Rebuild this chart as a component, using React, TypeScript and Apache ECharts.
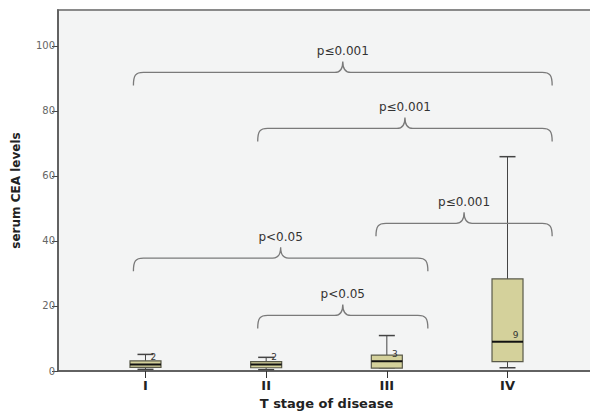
import React, { useEffect, useRef } from "react";
import * as echarts from "echarts";

const categories = ["I", "II", "III", "IV"];
// [x position, low whisker, Q1, median, Q3, high whisker]
const boxLow = [0.5, 0.4, 1.0, 1.0];
const boxQ1 = [1.1, 1.0, 0.9, 2.9];
const boxMedian = [2, 2, 3, 9];
const boxQ3 = [3.1, 2.9, 4.9, 28.3];
const boxHigh = [5.1, 4.2, 10.9, 65.9];
const medianLabels = ["2", "2", "3", "9"];

const bracketStart = [0.9, 1.93, 0.9, 1.93, 2.91];
const bracketEnd = [4.37, 4.37, 3.34, 3.34, 4.37];
const bracketLevel = [91.8, 74.6, 34.7, 17.1, 45.4];
const bracketLabels = ["p≤0.001", "p≤0.001", "p<0.05", "p<0.05", "p≤0.001"];

const yTicks = [0, 20, 40, 60, 80, 100];
const FONT = "DejaVu Sans";

export default function App() {
  const ref = useRef<HTMLDivElement>(null);
  useEffect(() => {
    if (!ref.current) return;
    const chart = echarts.init(ref.current, null, { renderer: "svg" });
    const boxData = categories.map((_, i) => [
      i + 1,
      boxLow[i],
      boxQ1[i],
      boxMedian[i],
      boxQ3[i],
      boxHigh[i],
    ]);
    const bracketData = bracketStart.map((s, i) => [s, bracketEnd[i], bracketLevel[i]]);
    const xTickValues = categories.map((_, i) => i + 1);

    chart.setOption({
      animation: false,
      grid: {
        left: 58,
        right: -5,
        top: 10,
        bottom: 44,
        outerBoundsMode: "none",
        containLabel: false,
        show: true,
        backgroundColor: "#f3f4f4",
        borderColor: "#8a8a8a",
        borderWidth: 2,
      },
      xAxis: {
        type: "value",
        min: 0.275,
        max: 4.725,
        splitLine: { show: false },
        axisLine: { show: true, onZero: false, lineStyle: { color: "#555", width: 1.5 } },
        axisTick: {
          show: true,
          customValues: xTickValues,
          length: 7,
          lineStyle: { color: "#333" },
        },
        axisLabel: {
          customValues: xTickValues,
          formatter: (v: number) => categories[Math.round(v) - 1] ?? "",
          fontFamily: FONT,
          fontWeight: "bold",
          fontSize: 13,
          color: "#222",
          margin: 8,
        },
        name: "T stage of disease",
        nameLocation: "middle",
        nameGap: 26,
        nameTextStyle: { fontFamily: FONT, fontWeight: "bold", fontSize: 13, color: "#222" },
      },
      yAxis: {
        type: "value",
        min: 0,
        max: 111,
        splitLine: { show: false },
        axisLine: { show: true, lineStyle: { color: "#555", width: 1.5 } },
        axisTick: { show: true, customValues: yTicks, length: 6, lineStyle: { color: "#444" } },
        axisLabel: {
          customValues: yTicks,
          fontFamily: FONT,
          fontSize: 10,
          color: "#666",
          margin: 3,
        },
        name: "serum CEA levels",
        nameLocation: "middle",
        nameRotate: 90,
        nameGap: 36,
        nameTextStyle: { fontFamily: FONT, fontWeight: "bold", fontSize: 12, color: "#222" },
      },
      series: [
        {
          type: "custom",
          data: boxData,
          renderItem: (params: any, api: any) => {
            const x = api.value(0);
            const pLow = api.coord([x, api.value(1)]);
            const pQ1 = api.coord([x, api.value(2)]);
            const pMed = api.coord([x, api.value(3)]);
            const pQ3 = api.coord([x, api.value(4)]);
            const pHigh = api.coord([x, api.value(5)]);
            const cx = pLow[0];
            const hw = 15.5;
            const cap = 8;
            const stroke = "#444";
            return {
              type: "group",
              children: [
                { type: "line", shape: { x1: cx, y1: pLow[1], x2: cx, y2: pQ1[1] }, style: { stroke, lineWidth: 1 } },
                { type: "line", shape: { x1: cx, y1: pQ3[1], x2: cx, y2: pHigh[1] }, style: { stroke, lineWidth: 1 } },
                { type: "line", shape: { x1: cx - cap, y1: pLow[1], x2: cx + cap, y2: pLow[1] }, style: { stroke, lineWidth: 1.5 } },
                { type: "line", shape: { x1: cx - cap, y1: pHigh[1], x2: cx + cap, y2: pHigh[1] }, style: { stroke, lineWidth: 1.5 } },
                {
                  type: "rect",
                  shape: { x: cx - hw, y: pQ3[1], width: hw * 2, height: pQ1[1] - pQ3[1] },
                  style: { fill: "#d4d19b", stroke: "#5a5a4a", lineWidth: 1.2 },
                },
                { type: "line", shape: { x1: cx - hw, y1: pMed[1], x2: cx + hw, y2: pMed[1] }, style: { stroke: "#111", lineWidth: 2 } },
                {
                  type: "text",
                  style: {
                    text: medianLabels[params.dataIndex],
                    x: cx + 8,
                    y: pMed[1] - 7,
                    align: "center",
                    verticalAlign: "middle",
                    fontFamily: FONT,
                    fontSize: 9,
                    fill: "#333",
                  },
                },
              ],
            };
          },
          z: 3,
        },
        {
          type: "custom",
          data: bracketData,
          renderItem: (params: any, api: any) => {
            const a = api.coord([api.value(0), api.value(2)]);
            const b = api.coord([api.value(1), api.value(2)]);
            const xs = a[0];
            const xe = b[0];
            const y = a[1];
            const xm = (xs + xe) / 2;
            const d =
              `M${xs},${y + 13} C${xs},${y + 3} ${xs + 2},${y} ${xs + 10},${y} ` +
              `L${xm - 8},${y} C${xm - 3},${y} ${xm},${y - 3} ${xm},${y - 11} ` +
              `C${xm},${y - 3} ${xm + 3},${y} ${xm + 8},${y} ` +
              `L${xe - 10},${y} C${xe - 2},${y} ${xe},${y + 3} ${xe},${y + 13}`;
            return {
              type: "group",
              children: [
                {
                  type: "path",
                  shape: { pathData: d },
                  style: { stroke: "#7a7a7a", fill: "none", lineWidth: 1.3 },
                },
                {
                  type: "text",
                  style: {
                    text: bracketLabels[params.dataIndex],
                    x: xm,
                    y: y - 21,
                    align: "center",
                    verticalAlign: "middle",
                    fontFamily: FONT,
                    fontSize: 12,
                    fill: "#333",
                  },
                },
              ],
            };
          },
          z: 4,
        },
      ],
    });
    return () => chart.dispose();
  }, []);
  return (
    <div
      ref={ref}
      style={{ position: "absolute", left: 0, top: 0, width: 590, height: 415 }}
    />
  );
}
